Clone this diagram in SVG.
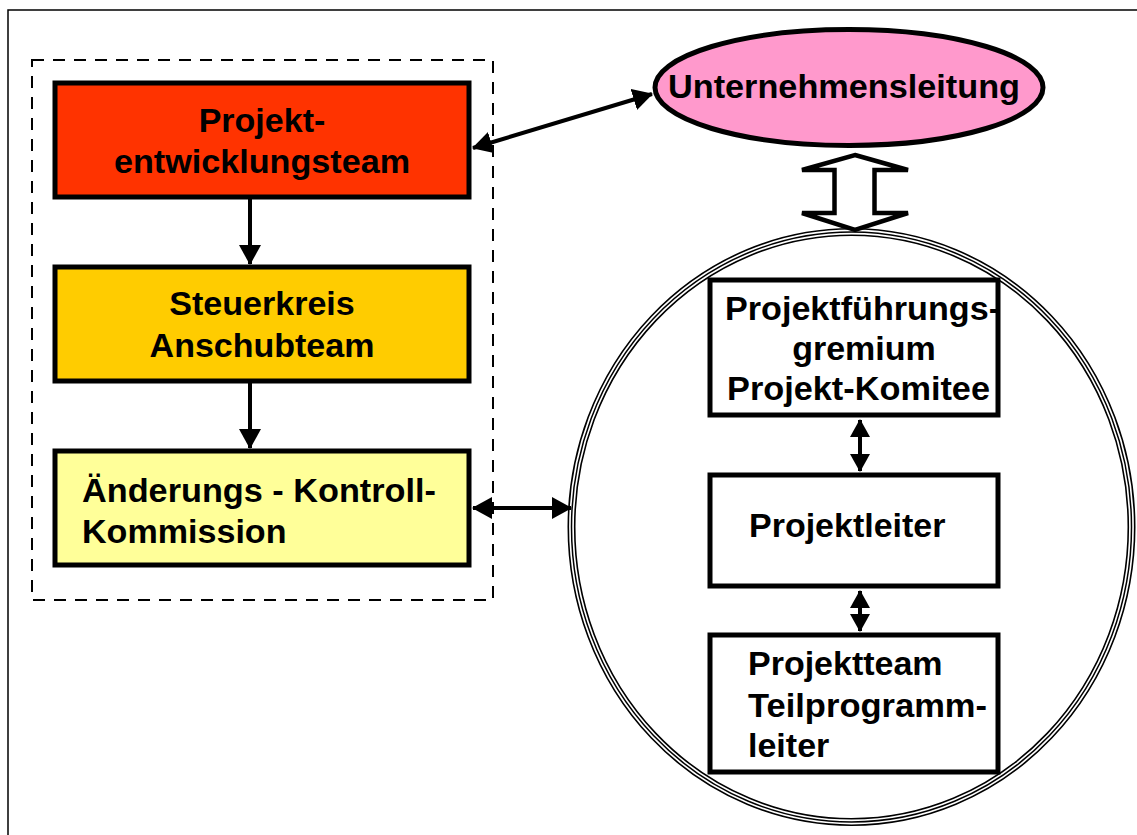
<svg xmlns="http://www.w3.org/2000/svg" width="1137" height="835" viewBox="0 0 1137 835">
<style>
.t{font-family:"Liberation Sans",Arial,sans-serif;font-weight:bold;font-size:33px;fill:#000}
.box{stroke:#000;stroke-width:5}
.ln{stroke:#000;stroke-width:4;fill:none}
</style>
<defs>
<marker id="ah" markerUnits="userSpaceOnUse" viewBox="0 0 20 22" refX="19" refY="11" markerWidth="20" markerHeight="22" orient="auto-start-reverse">
<path d="M0,0 L20,11 L0,22 z" fill="#000"/>
</marker>
<marker id="ahs" markerUnits="userSpaceOnUse" viewBox="0 0 18 20" refX="17" refY="10" markerWidth="18" markerHeight="20" orient="auto-start-reverse">
<path d="M0,0 L18,10 L0,20 z" fill="#000"/>
</marker>
</defs>
<rect width="1137" height="835" fill="#fff"/>
<rect x="8" y="10" width="1145" height="845" fill="none" stroke="#000" stroke-width="1.5"/>
<rect id="group-frame" x="32" y="60" width="461" height="540" fill="none" stroke="#000" stroke-width="2" stroke-dasharray="12 9"/>

<g id="circle-frame">
<ellipse cx="851.5" cy="527" rx="280" ry="295" fill="#fff" stroke="#000" stroke-width="8"/>
<ellipse cx="851.5" cy="527" rx="280" ry="295" fill="none" stroke="#fff" stroke-width="4.8"/>
<ellipse cx="851.5" cy="527" rx="280" ry="295" fill="none" stroke="#000" stroke-width="1.5"/>
</g>

<g id="connectors">
<line class="ln" x1="250" y1="197" x2="250" y2="264" marker-end="url(#ah)"/>
<line class="ln" x1="250" y1="381" x2="250" y2="448" marker-end="url(#ah)"/>
<line class="ln" x1="473" y1="148" x2="652" y2="94" marker-start="url(#ah)" marker-end="url(#ah)"/>
<line class="ln" x1="473" y1="508" x2="571" y2="508" marker-start="url(#ah)" marker-end="url(#ah)"/>
<line class="ln" x1="860" y1="420" x2="860" y2="471" marker-start="url(#ahs)" marker-end="url(#ahs)"/>
<line class="ln" x1="860" y1="591" x2="860" y2="631" marker-start="url(#ahs)" marker-end="url(#ahs)"/>
<polygon points="855,155 908,170 874.5,170 874.5,213 908,213 855,230 802,213 834.5,213 834.5,170 802,170" fill="#fff" stroke="#000" stroke-width="4.5" stroke-linejoin="miter"/>
</g>

<g id="node-projektentwicklungsteam">
<rect class="box" x="55" y="83" width="414" height="114" fill="#FF3300"/>
<text class="t" x="262" y="132" text-anchor="middle" textLength="126.6" lengthAdjust="spacingAndGlyphs">Projekt-</text>
<text class="t" x="262" y="173" text-anchor="middle" textLength="296" lengthAdjust="spacingAndGlyphs">entwicklungsteam</text>
</g>

<g id="node-steuerkreis">
<rect class="box" x="55" y="267" width="414" height="114" fill="#FFCC00"/>
<text class="t" x="262" y="315" text-anchor="middle" textLength="185.5" lengthAdjust="spacingAndGlyphs">Steuerkreis</text>
<text class="t" x="262" y="357" text-anchor="middle" textLength="224.8" lengthAdjust="spacingAndGlyphs">Anschubteam</text>
</g>

<g id="node-aenderungskommission">
<rect class="box" x="55" y="451" width="414" height="114" fill="#FFFF99"/>
<text class="t" x="82" y="502" textLength="354" lengthAdjust="spacingAndGlyphs">Änderungs - Kontroll-</text>
<text class="t" x="82" y="543" textLength="204.5" lengthAdjust="spacingAndGlyphs">Kommission</text>
</g>

<g id="node-unternehmensleitung">
<ellipse cx="849" cy="87.5" rx="194" ry="58" fill="#FF99CC" stroke="#000" stroke-width="5"/>
<text class="t" x="668" y="98" textLength="352" lengthAdjust="spacingAndGlyphs">Unternehmensleitung</text>
</g>

<g id="node-projektfuehrungsgremium">
<rect class="box" x="710" y="280" width="288" height="135" fill="#fff"/>
<text class="t" x="725" y="320" textLength="275" lengthAdjust="spacingAndGlyphs">Projektführungs-</text>
<text class="t" x="864" y="360" text-anchor="middle" textLength="143.6" lengthAdjust="spacingAndGlyphs">gremium</text>
<text class="t" x="727" y="400" textLength="263" lengthAdjust="spacingAndGlyphs">Projekt-Komitee</text>
</g>

<g id="node-projektleiter">
<rect class="box" x="710" y="475" width="288" height="111" fill="#fff"/>
<text class="t" x="749" y="537" textLength="196.5" lengthAdjust="spacingAndGlyphs">Projektleiter</text>
</g>

<g id="node-projektteam">
<rect class="box" x="710" y="635" width="288" height="137" fill="#fff"/>
<text class="t" x="748" y="675" textLength="194.6" lengthAdjust="spacingAndGlyphs">Projektteam</text>
<text class="t" x="748" y="717" textLength="239" lengthAdjust="spacingAndGlyphs">Teilprogramm-</text>
<text class="t" x="748" y="757" textLength="81.3" lengthAdjust="spacingAndGlyphs">leiter</text>
</g>
</svg>
